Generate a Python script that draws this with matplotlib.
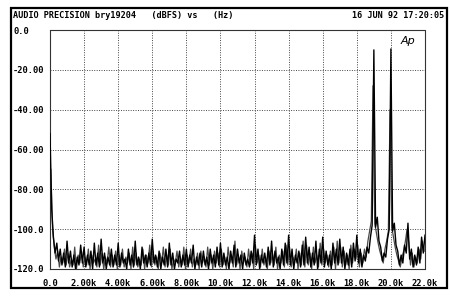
import numpy as np
import matplotlib
matplotlib.use("Agg")
import matplotlib.pyplot as plt
from matplotlib.patches import Rectangle

# ---- data ----
freq_step_hz = 100
trace_b_offset_hz = 50
trace_a_db = [
    -52, -90, -104, -112, -107, -116, -110, -118, -112, -119,
    -106, -117, -111, -119, -113, -120, -114, -118, -108, -117,
    -109, -119, -113, -118, -111, -120, -107, -118, -112, -119,
    -105, -117, -112, -120, -114, -118, -110, -119, -113, -118,
    -107, -119, -112, -117, -115, -120, -110, -118, -113, -119,
    -106, -118, -114, -120, -109, -117, -113, -119, -112, -118,
    -105, -117, -113, -119, -111, -120, -114, -118, -110, -119,
    -107, -118, -112, -120, -115, -117, -111, -119, -113, -118,
    -110, -119, -113, -117, -108, -120, -114, -118, -112, -119,
    -111, -118, -114, -120, -110, -117, -113, -119, -109, -118,
    -107, -119, -112, -118, -114, -120, -111, -117, -108, -119,
    -110, -117, -113, -120, -112, -118, -115, -119, -111, -117,
    -103, -118, -110, -120, -113, -117, -112, -119, -109, -118,
    -106, -119, -111, -117, -114, -120, -110, -118, -107, -117,
    -103, -118, -110, -120, -113, -117, -111, -119, -108, -118,
    -104, -117, -109, -119, -112, -118, -106, -120, -110, -117,
    -104, -119, -111, -118, -113, -120, -107, -117, -110, -118,
    -105, -117, -109, -120, -112, -118, -110, -119, -107, -116,
    -103, -117, -110, -119, -113, -116, -109, -112, -104, -98,
    -10, -99, -94, -106, -109, -116, -112, -114, -105, -100,
    -9.5, -101, -97, -108, -111, -118, -113, -117, -108, -112,
    -97, -115, -110, -119, -113, -118, -109, -117, -104, -112,
    -103,
]
trace_b_db = [
    -70, -100, -109, -115, -111, -119, -114, -117, -110, -118,
    -112, -119, -115, -118, -109, -120, -113, -117, -111, -119,
    -114, -118, -110, -120, -113, -117, -115, -119, -108, -118,
    -112, -120, -114, -117, -109, -119, -113, -118, -111, -120,
    -113, -118, -110, -119, -114, -117, -112, -120, -109, -118,
    -112, -119, -115, -118, -110, -120, -113, -117, -108, -119,
    -111, -118, -114, -120, -112, -117, -109, -119, -113, -118,
    -110, -120, -115, -117, -111, -119, -114, -118, -109, -120,
    -113, -117, -110, -119, -115, -118, -112, -120, -111, -117,
    -114, -119, -109, -118, -113, -120, -111, -117, -112, -119,
    -110, -118, -114, -120, -109, -117, -113, -119, -106, -118,
    -113, -120, -111, -117, -114, -119, -110, -118, -112, -120,
    -108, -117, -113, -119, -110, -118, -114, -120, -111, -117,
    -112, -118, -109, -120, -113, -117, -111, -119, -108, -118,
    -109, -119, -114, -117, -110, -120, -112, -118, -106, -119,
    -108, -118, -112, -120, -109, -117, -113, -119, -107, -118,
    -110, -117, -113, -119, -111, -118, -109, -120, -106, -117,
    -109, -119, -111, -118, -113, -120, -108, -117, -110, -115,
    -108, -119, -112, -117, -110, -114, -106, -101, -96, -28,
    -97, -102, -107, -111, -114, -117, -110, -106, -101, -40,
    -99, -104, -109, -113, -116, -119, -114, -111, -106, -100,
    -107, -118, -112, -119, -114, -117, -110, -115, -106, -111,
]
x_ticks_hz = [0, 2000, 4000, 6000, 8000, 10000, 12000, 14000, 16000, 18000, 20000, 22000]
x_tick_labels = ["0.0", "2.00k", "4.00k", "6.00k", "8.00k", "10.0k", "12.0k",
                 "14.0k", "16.0k", "18.0k", "20.0k", "22.0k"]
y_ticks_db = [0, -20, -40, -60, -80, -100, -120]
y_tick_labels = ["0.0", "-20.00", "-40.00", "-60.00", "-80.00", "-100.0", "-120.0"]
title_left = "AUDIO PRECISION bry19204   (dBFS) vs   (Hz)"
title_right = "16 JUN 92 17:20:05"

freqs_a = np.arange(len(trace_a_db)) * freq_step_hz
freqs_b = trace_b_offset_hz + np.arange(len(trace_b_db)) * freq_step_hz

W, H = 450, 296
fig = plt.figure(figsize=(W / 100, H / 100), dpi=100)
fig.patch.set_facecolor("white")

# outer frame
fig.patches.append(Rectangle((11 / W, 1 - 288 / H), (447 - 11) / W, (288 - 8) / H,
                             transform=fig.transFigure, fill=False,
                             edgecolor="black", linewidth=1.6))

ax = fig.add_axes([50 / W, 1 - 269 / H, (425 - 50) / W, (269 - 30) / H])
ax.set_xlim(0, 22000)
ax.set_ylim(-120, 0)

mono = dict(family="DejaVu Sans Mono", weight="bold")

ax.plot(freqs_b, trace_b_db, color="#4a4a4a", linewidth=0.9, zorder=3)
ax.plot(freqs_a, trace_a_db, color="black", linewidth=1.0, zorder=4)

ax.set_xticks(x_ticks_hz)
ax.set_xticklabels(x_tick_labels, fontsize=6.3, **mono)
ax.set_yticks(y_ticks_db)
ax.set_yticklabels(y_tick_labels, fontsize=6.3, **mono)
ax.tick_params(axis="both", length=0)
ax.tick_params(axis="x", pad=7.5)
ax.tick_params(axis="y", pad=26.6)
for lab in ax.get_yticklabels():
    lab.set_horizontalalignment("left")

ax.grid(True, color="#444444", linestyle=(0, (1, 1.5)), linewidth=0.7, zorder=1)
for s in ax.spines.values():
    s.set_linestyle((0, (1, 1)))
    s.set_linewidth(0.8)
    s.set_color("#333333")

ax.text(0.975, 0.975, "Ap", transform=ax.transAxes, ha="right", va="top",
        fontsize=8, style="italic", family="DejaVu Sans", zorder=5)

fig.text(13 / W, 1 - 16 / H, title_left, ha="left", va="center", fontsize=6.1, **mono)
fig.text(444 / W, 1 - 16 / H, title_right, ha="right", va="center", fontsize=6.1, **mono)

fig.savefig("out.png", dpi=100, facecolor="white")
